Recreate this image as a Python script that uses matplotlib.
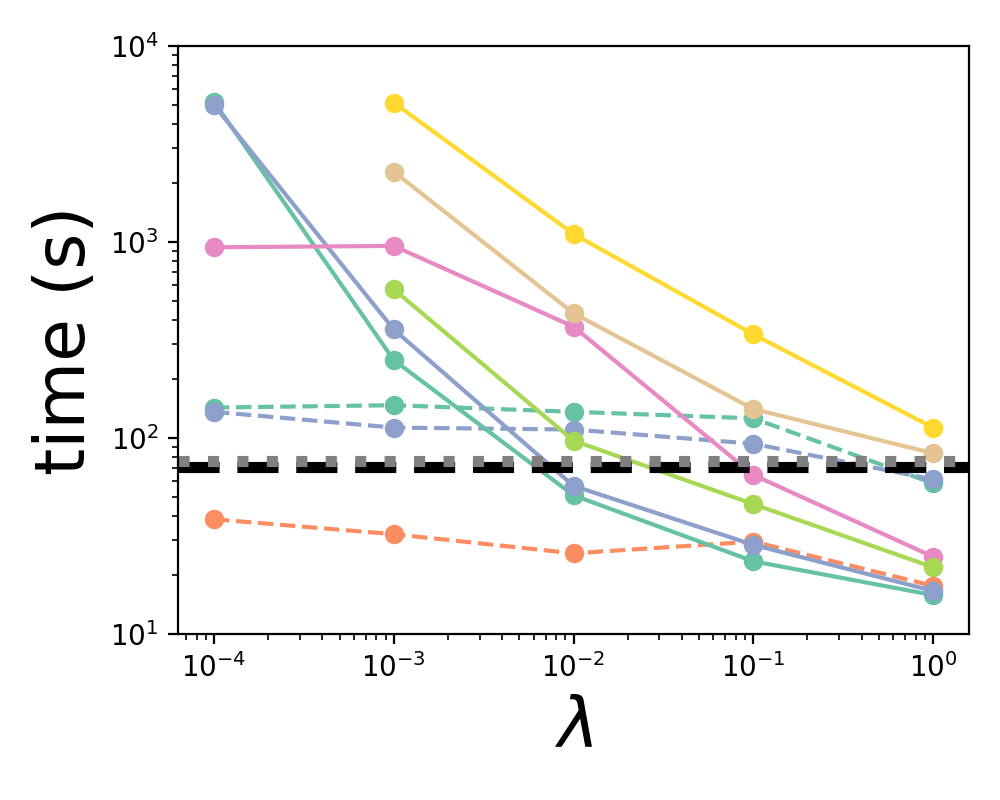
import numpy as np
import matplotlib.pyplot as plt

# regularisation strengths
lambdas = [1e-4, 1e-3, 1e-2, 1e-1, 1e0]
lambdas_short = [1e-3, 1e-2, 1e-1, 1e0]

# dashed runs (time in seconds)
green_dashed = [143, 147, 136, 126, 58.7]
orange_dashed = [38.5, 32.3, 25.8, 29.6, 17.6]
blue_dashed = [136, 113, 110.5, 93.5, 61.5]

# solid runs
green_solid = [5200, 250, 51, 23.5, 15.8]
blue_solid = [5000, 358, 57, 28.5, 16.6]
pink_solid = [940, 955, 370, 64.8, 24.8]
lime_solid = [574, 97, 46, 21.9]
yellow_solid = [5140, 1099, 338, 113]
tan_solid = [2285, 433, 140.6, 83.6]

# reference levels
baseline_black = 71
baseline_gray = 76

set2 = plt.get_cmap("Set2").colors

fig, ax = plt.subplots(figsize=(5, 4), dpi=200)
fig.subplots_adjust(left=0.178, right=0.969, top=0.9425, bottom=0.2075)

ax.plot(lambdas, green_dashed, "o--", color=set2[0])
ax.plot(lambdas, orange_dashed, "o--", color=set2[1])
ax.plot(lambdas, blue_dashed, "o--", color=set2[2])

ax.plot(lambdas, green_solid, "o-", color=set2[0])
ax.plot(lambdas, blue_solid, "o-", color=set2[2])
ax.plot(lambdas, pink_solid, "o-", color=set2[3])
ax.plot(lambdas_short, lime_solid, "o-", color=set2[4])
ax.plot(lambdas_short, yellow_solid, "o-", color=set2[5])
ax.plot(lambdas_short, tan_solid, "o-", color=set2[6])

ax.axhline(baseline_black, color="black", linestyle="--", linewidth=4)
ax.axhline(baseline_gray, color="gray", linestyle=":", linewidth=4)

ax.set_xscale("log")
ax.set_yscale("log")
ax.set_ylim(10, 1e4)

ax.set_xlabel(r"$\lambda$", fontsize=25)
ax.set_ylabel("time (s)", fontsize=25)

fig.savefig("out.png", dpi=200)
